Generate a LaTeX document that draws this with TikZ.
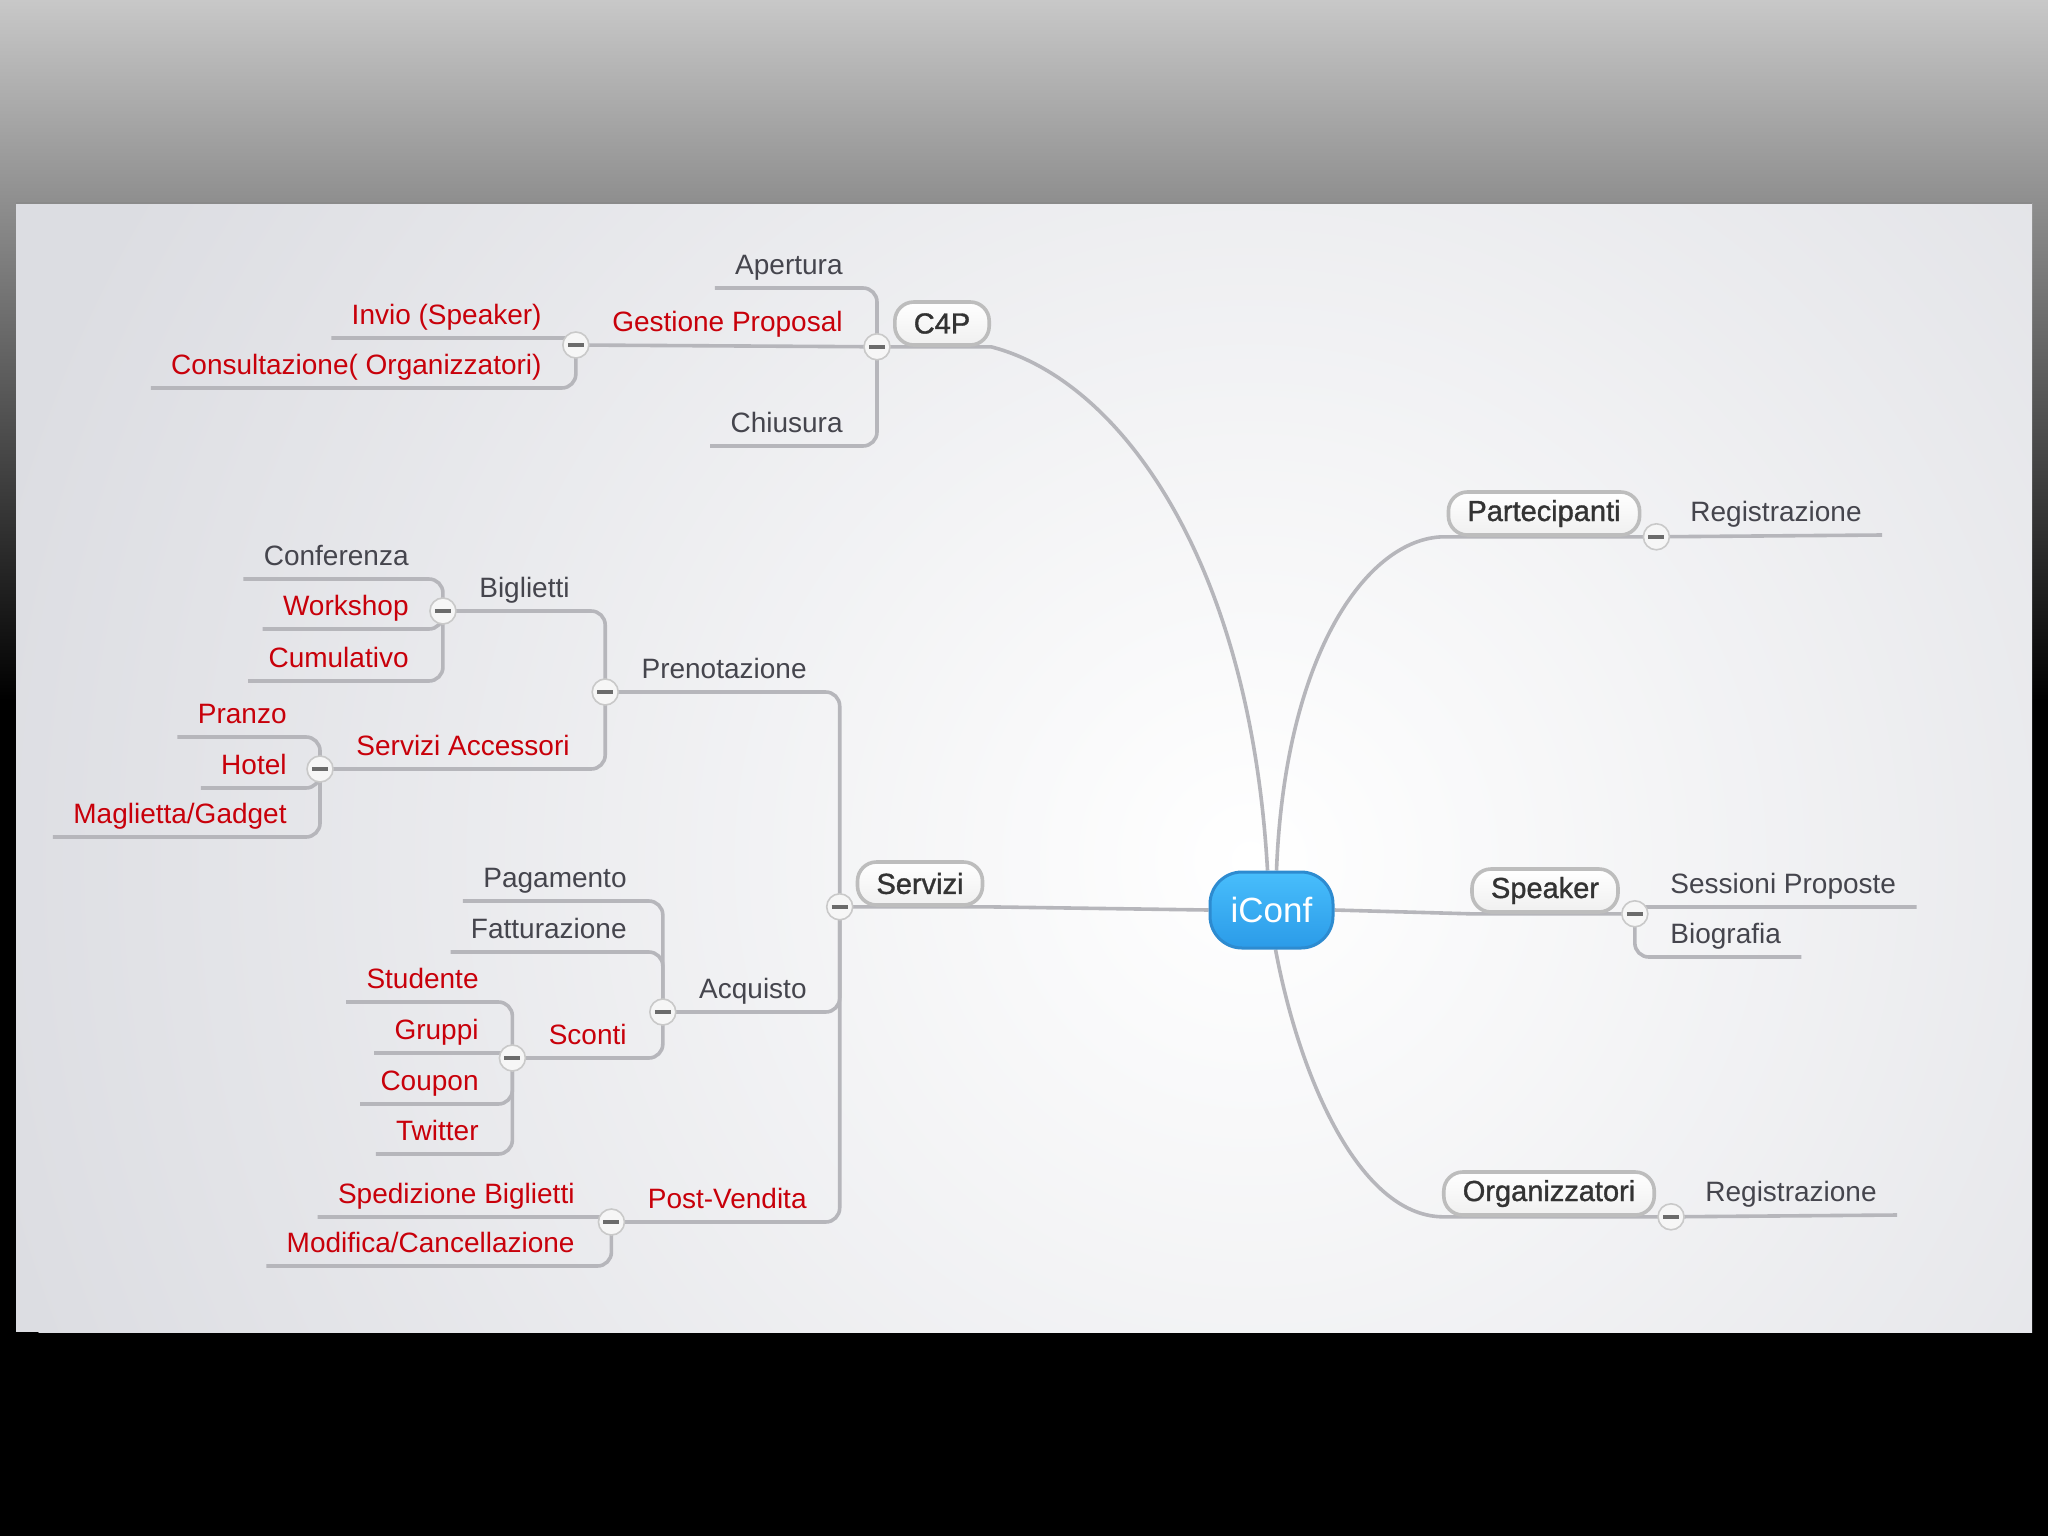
\documentclass[tikz,border=0pt]{standalone}
\usepackage{fontspec}
\setmainfont{Liberation Sans}
\newfontfamily\topicfont[FakeBold=1.2]{Liberation Sans}
\usetikzlibrary{calc}
\definecolor{linegray}{HTML}{B6B6BB}
\definecolor{txtgray}{HTML}{45454D}
\definecolor{txtred}{HTML}{C8000A}
\definecolor{boxgray}{HTML}{BDBDBD}
\definecolor{topictext}{HTML}{333333}
\definecolor{panel}{HTML}{DCDDE2}
\definecolor{btnfill}{HTML}{F6F6F6}
\definecolor{btnline}{HTML}{C9C9C9}
\definecolor{btnbar}{HTML}{6B6B6B}
\definecolor{rootline}{HTML}{2D8BD0}
\definecolor{roottop}{HTML}{48BEFC}
\definecolor{rootbot}{HTML}{2B9BE8}
\definecolor{bgtop}{HTML}{C8C8C8}
\definecolor{bgmid}{HTML}{646464}
\definecolor{panelline}{HTML}{8A8A8A}
\pgfdeclarelayer{back}
\pgfdeclarelayer{lines}
\pgfsetlayers{back,lines,main}
\tikzset{
  lbl/.style={inner xsep=10pt, inner ysep=6.5pt, text depth=0pt, font=\fontsize{14pt}{16pt}\selectfont},
  gr/.style={lbl, text=txtgray},
  rd/.style={lbl, text=txtred},
  topic/.style={draw=boxgray, line width=1.8pt, top color=white, bottom color=white!94!black,
    rounded corners=9.5pt, minimum height=21.5pt, inner xsep=9.5pt, inner ysep=0pt,
    font=\topicfont\fontsize{14.5pt}{16pt}\selectfont, text=topictext},
  root/.style={draw=rootline, line width=1.5pt, top color=roottop, bottom color=rootbot,
    rounded corners=16pt, minimum width=61.5pt, minimum height=38pt, inner xsep=0pt,
    text=white, font=\fontsize{17.5pt}{20pt}\selectfont},
  btn/.style={circle, minimum size=13pt, inner sep=0pt, fill=btnfill, draw=btnline, line width=0.8pt,
    path picture={\draw[line width=2pt, btnbar] ([xshift=-4pt]path picture bounding box.center) -- ([xshift=4pt]path picture bounding box.center);}},
  conn/.style={draw=linegray, line width=1.8pt},
  rc/.style={rounded corners=7pt},
  rcs/.style={rounded corners=2.5pt},
}
\begin{document}
\begin{tikzpicture}[x=0.5pt, y=-0.5pt]
\useasboundingbox (0,0) rectangle (2048,1536);
\begin{pgfonlayer}{back}
  \fill[black] (0,0) rectangle (2048,1536);
  \shade[top color=bgtop, middle color=bgmid, bottom color=black] (0,0) rectangle (2048,700);
  \fill[panel] (16,203) rectangle (2032,1332);
  \begin{scope}
    \clip (16,203) rectangle (2032,1332);
    \shade[inner color=white, outer color=panel] (1250,860) circle (1300);
  \end{scope}
  \draw[panelline, line width=0.8pt] (16,203) -- (2032,203);
\end{pgfonlayer}

% root and main topics
\node[root] (ic) at (1271.5,910) {iConf};
\node[topic] (c4p) at (942,323.5) {C4P};
\node[topic] (part) at (1544,513.5) {Partecipanti};
\node[topic] (spk) at (1545,890.5) {Speaker};
\node[topic] (serv) at (920,883.5) {Servizi};
\node[topic] (org) at (1549,1193.5) {Organizzatori};

% C4P branch
\node[gr, anchor=south east] (apertura) at (863,288) {Apertura};
\node[rd, anchor=south east] (gestione) at (863,345) {Gestione Proposal};
\node[gr, anchor=south east] (chiusura) at (863,446) {Chiusura};
\node[rd, anchor=south east] (invio) at (562,338) {Invio (Speaker)};
\node[rd, anchor=south east] (consult) at (562,388) {Consultazione( Organizzatori)};

% Servizi branch
\node[gr, anchor=south east] (prenot) at (827,692) {Prenotazione};
\node[gr, anchor=south east] (acq) at (827,1012) {Acquisto};
\node[rd, anchor=south east] (postv) at (827,1222) {Post-Vendita};
\node[gr, anchor=south east] (bigl) at (590,611) {Biglietti};
\node[rd, anchor=south east] (servacc) at (590,769) {Servizi Accessori};
\node[gr, anchor=south east] (conf) at (429,579) {Conferenza};
\node[rd, anchor=south east] (works) at (429,629) {Workshop};
\node[rd, anchor=south east] (cumul) at (429,681) {Cumulativo};
\node[rd, anchor=south east] (pranzo) at (307,737) {Pranzo};
\node[rd, anchor=south east] (hotel) at (307,788) {Hotel};
\node[rd, anchor=south east] (magl) at (307,837) {Maglietta/Gadget};
\node[gr, anchor=south east] (pag) at (647,901) {Pagamento};
\node[gr, anchor=south east] (fatt) at (647,952) {Fatturazione};
\node[rd, anchor=south east] (sconti) at (647,1058) {Sconti};
\node[rd, anchor=south east] (stud) at (499,1002) {Studente};
\node[rd, anchor=south east] (grup) at (499,1053) {Gruppi};
\node[rd, anchor=south east] (coup) at (499,1104) {Coupon};
\node[rd, anchor=south east] (twit) at (499,1154) {Twitter};
\node[rd, anchor=south east] (sped) at (595,1217) {Spedizione Biglietti};
\node[rd, anchor=south east] (modif) at (595,1266) {Modifica/Cancellazione};

% right side
\node[gr, anchor=south west] (reg1) at (1670,535) {Registrazione};
\node[gr, anchor=south west] (sess) at (1650,907) {Sessioni Proposte};
\node[gr, anchor=south west] (bio) at (1650,957) {Biografia};
\node[gr, anchor=south west] (reg2) at (1685,1215) {Registrazione};

% buttons
\node[btn] (c4pb) at ([xshift=-8pt]c4p.south west) {};
\node[btn] (servb) at ([xshift=-8pt]serv.south west) {};
\node[btn] (partb) at ([xshift=7.5pt]part.south east) {};
\node[btn] (spkb) at ([xshift=7.5pt]spk.south east) {};
\node[btn] (orgb) at ([xshift=7.5pt]org.south east) {};
\node[btn] (gb) at ([xshift=-8pt]gestione.south west) {};
\node[btn] (pb) at ([xshift=-8pt]prenot.south west) {};
\node[btn] (ab) at ([xshift=-8pt]acq.south west) {};
\node[btn] (pvb) at ([xshift=-8pt]postv.south west) {};
\node[btn] (bb) at ([xshift=-8pt]bigl.south west) {};
\node[btn] (sab) at ([xshift=-8pt]servacc.south west) {};
\node[btn] (scb) at ([xshift=-8pt]sconti.south west) {};

\begin{pgfonlayer}{lines}
  % main connectors
  \draw[conn] (c4pb.center) -- (c4p.south east) .. controls (1120,380) and (1250,560) .. ([xshift=-2pt]ic.north);
  \draw[conn] ([xshift=2.5pt]ic.north) .. controls (1285,650) and (1370,535) .. (part.south west) -- (partb.center);
  \draw[conn] (servb.center) -- (serv.south east) -- (ic.west);
  \draw[conn] (ic.east) -- (spk.south west) -- (spkb.center);
  \draw[conn] ([xshift=2pt]ic.south) .. controls (1300,1080) and (1360,1215) .. (org.south west) -- (orgb.center);
  % C4P
  \draw[conn,rc] (apertura.south west) -| (c4pb.center);
  \draw[conn] (gb.center) -- (c4pb.center);
  \draw[conn,rc] (chiusura.south west) -| (c4pb.center);
  \draw[conn,rcs] (invio.south west) -| (gb.center);
  \draw[conn,rc] (consult.south west) -| (gb.center);
  % Servizi
  \draw[conn,rc] (pb.center) -| (servb.center);
  \draw[conn,rc] (ab.center) -| (servb.center);
  \draw[conn,rc] (pvb.center) -| (servb.center);
  \draw[conn,rc] (bb.center) -| (pb.center);
  \draw[conn,rc] (sab.center) -| (pb.center);
  \draw[conn,rc] (conf.south west) -| (bb.center);
  \draw[conn,rc] (works.south west) -| (bb.center);
  \draw[conn,rc] (cumul.south west) -| (bb.center);
  \draw[conn,rc] (pranzo.south west) -| (sab.center);
  \draw[conn,rc] (hotel.south west) -| (sab.center);
  \draw[conn,rc] (magl.south west) -| (sab.center);
  \draw[conn,rc] (pag.south west) -| (ab.center);
  \draw[conn,rc] (fatt.south west) -| (ab.center);
  \draw[conn,rc] (scb.center) -| (ab.center);
  \draw[conn,rc] (stud.south west) -| (scb.center);
  \draw[conn,rcs] (grup.south west) -| (scb.center);
  \draw[conn,rc] (coup.south west) -| (scb.center);
  \draw[conn,rc] (twit.south west) -| (scb.center);
  \draw[conn,rcs] (sped.south west) -| (pvb.center);
  \draw[conn,rc] (modif.south west) -| (pvb.center);
  % right side
  \draw[conn] (reg1.south east) -- (partb.center);
  \draw[conn,rcs] (sess.south east) -| (spkb.center);
  \draw[conn,rc] (bio.south east) -| (spkb.center);
  \draw[conn] (reg2.south east) -- (orgb.center);
\end{pgfonlayer}
\end{tikzpicture}
\end{document}
